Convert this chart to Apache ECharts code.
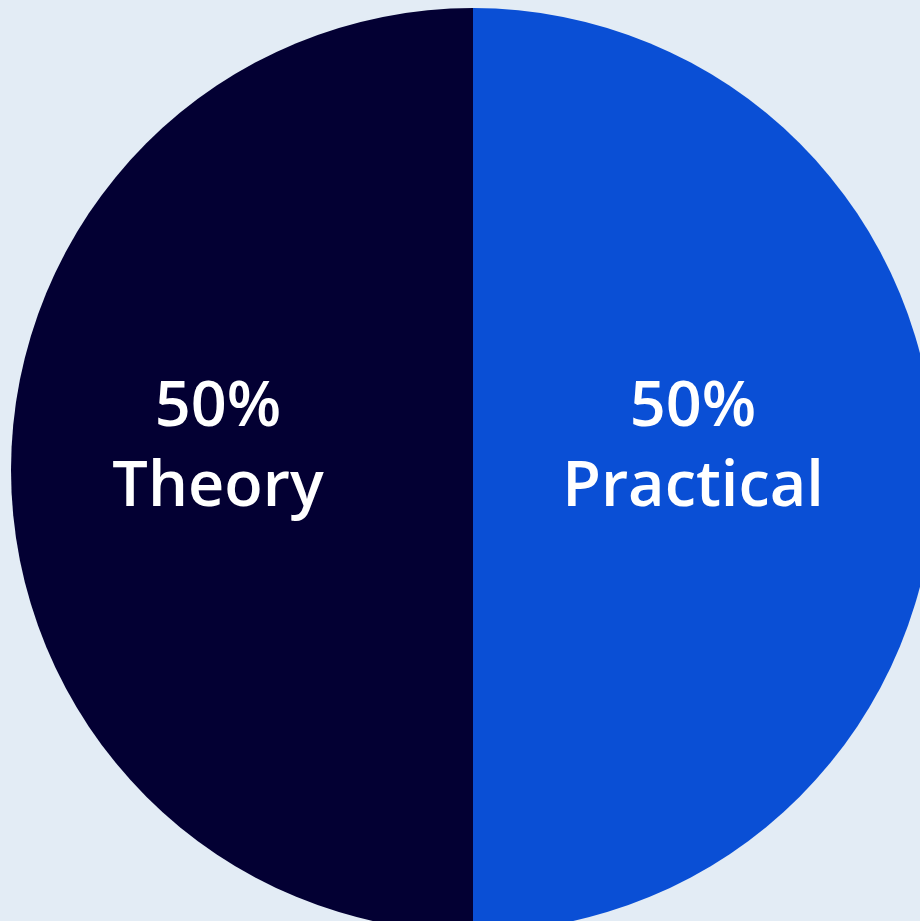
<!DOCTYPE html>
<html><head><meta charset="utf-8">
<script src="https://cdn.jsdelivr.net/npm/echarts@6/dist/echarts.min.js"></script>
<style>html,body{margin:0;padding:0;background:#E3ECF5;}#c{width:920px;height:921px;}</style>
</head><body><div id="c"></div>
<script>
const categories = ['Practical', 'Theory'];
const values = [50, 50];
const colors = ['#0A4FD5', '#030033'];
const labelOffsets = [[-14, -22], [-21, -22]];

const chart = echarts.init(document.getElementById('c'), null, {renderer: 'canvas'});
chart.setOption({
  backgroundColor: '#E3ECF5',
  animation: false,
  series: [{
    type: 'pie',
    center: [473, 470],
    radius: [0, 462],
    startAngle: 90,
    clockwise: true,
    silent: true,
    itemStyle: {borderWidth: 0},
    label: {
      show: true,
      position: 'inside',
      formatter: '{d}%\n{b}',
      color: '#FFFFFF',
      fontFamily: 'Open Sans',
      fontWeight: 600,
      fontSize: 63,
      lineHeight: 80
    },
    labelLine: {show: false},
    data: categories.map((n, i) => ({
      name: n, value: values[i],
      itemStyle: {color: colors[i]},
      label: {offset: labelOffsets[i]}
    }))
  }]
});
</script></body></html>
